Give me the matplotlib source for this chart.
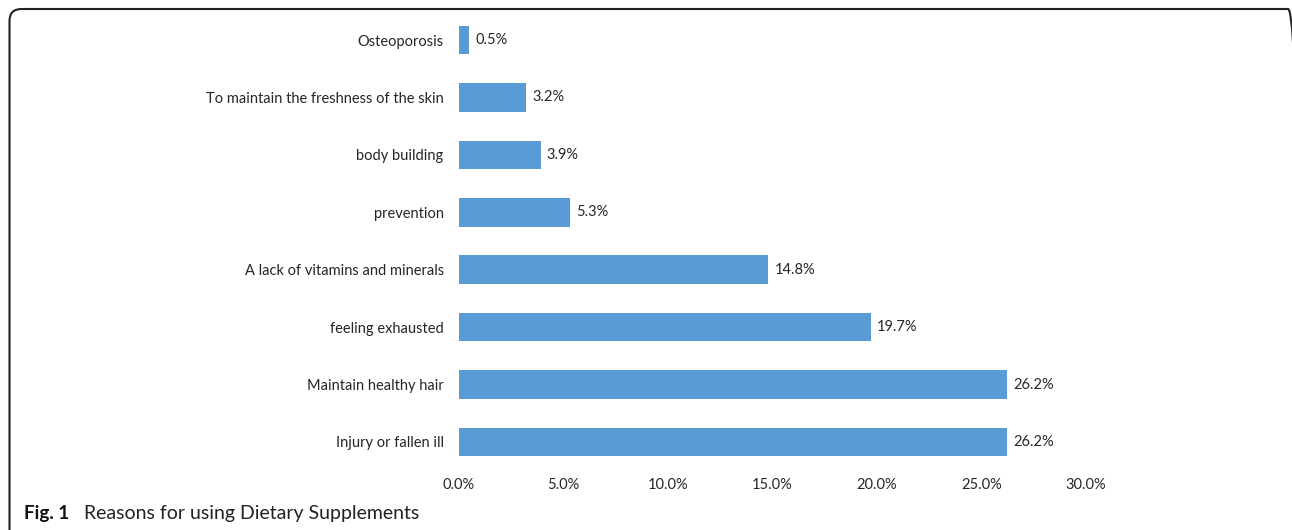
import matplotlib.pyplot as plt
from matplotlib.patches import FancyBboxPatch

plt.rcParams['font.family'] = ['Lato', 'DejaVu Sans']

# data (bottom to top)
reasons = ["Injury or fallen ill", "Maintain healthy hair", "feeling exhausted",
           "A lack of vitamins and minerals", "prevention", "body building",
           "To maintain the freshness of the skin", "Osteoporosis"]
percent = [26.2, 26.2, 19.7, 14.8, 5.3, 3.9, 3.2, 0.5]
xticks = [0, 5, 10, 15, 20, 25, 30]

W, H = 1292, 530
fig = plt.figure(figsize=(W / 100, H / 100), dpi=100)

# rounded frame around the figure (cut off at right and bottom), in inches
frame = FancyBboxPatch((0.095, -0.5), 13.0 - 0.095, 5.21 + 0.5,
                       boxstyle="round,pad=0,rounding_size=0.12",
                       transform=fig.dpi_scale_trans, fill=False,
                       edgecolor="#222222", lw=1.5)
fig.patches.append(frame)

ax = fig.add_axes([459 / W, (H - 470.7) / H, 627 / W, 459.4 / H])
y = range(len(reasons))
bars = ax.barh(y, percent, height=0.5, color="#5B9BD5")
for b, v in zip(bars, percent):
    ax.text(v + 0.3, b.get_y() + b.get_height() / 2, f"{v:.1f}%",
            va="center", ha="left", fontsize=10.5, color="#262626")

ax.set_xlim(0, 30)
ax.set_ylim(-0.5, len(reasons) - 0.5)
ax.set_yticks(list(y))
ax.set_yticklabels(reasons, fontsize=10.5, color="#262626")
ax.set_xticks(xticks)
ax.set_xticklabels([f"{t:.1f}%" for t in xticks], fontsize=10.5, color="#262626")
ax.tick_params(axis="y", length=0, pad=11)
ax.tick_params(axis="x", length=0, pad=5)
for s in ax.spines.values():
    s.set_visible(False)

fig.text(24 / W, (H - 514) / H, "Fig. 1", fontsize=13.5, fontweight="bold",
         color="#111111", va="center", ha="left")
fig.text(84 / W, (H - 514) / H, "Reasons for using Dietary Supplements",
         fontsize=14, color="#222222", va="center", ha="left")

fig.savefig("out.png", dpi=100)
